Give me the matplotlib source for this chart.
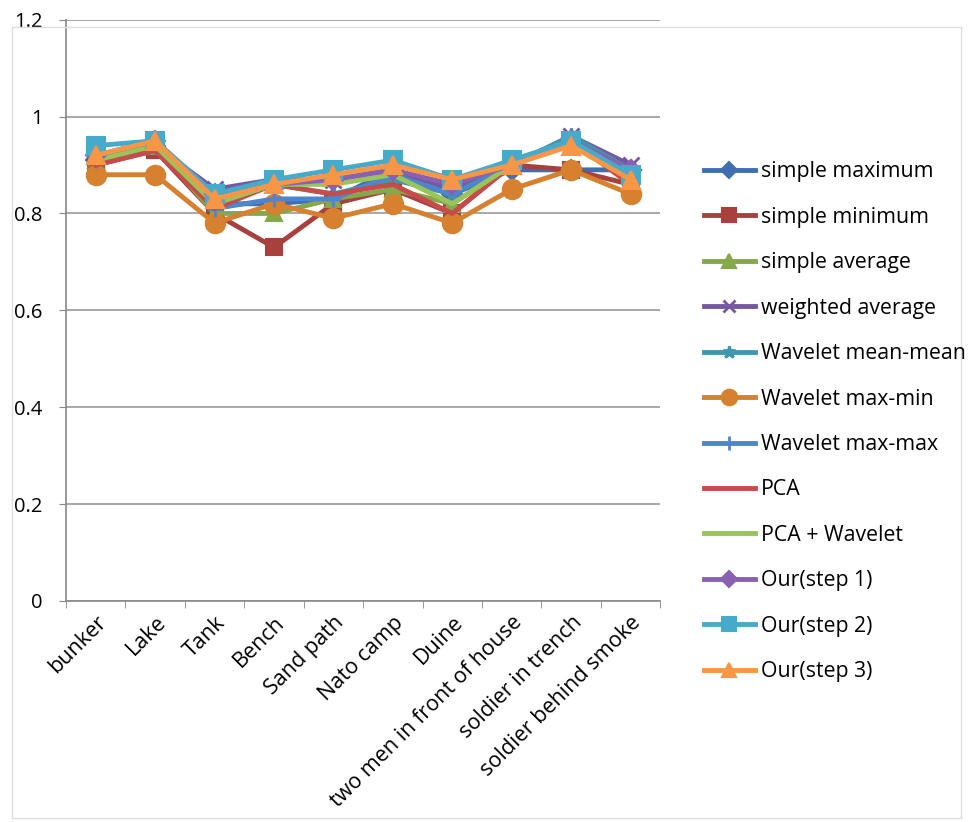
import numpy as np
import matplotlib
matplotlib.use('Agg')
import matplotlib.pyplot as plt
from matplotlib.patches import Rectangle

plt.rcParams['font.family'] = ['Open Sans', 'DejaVu Sans']

# image categories on the x axis
images = ['bunker', 'Lake', 'Tank', 'Bench', 'Sand path', 'Nato camp', 'Duine',
          'two men in front of house', 'soldier in trench', 'soldier behind smoke']

# fusion quality per method
simple_max = [0.91, 0.94, 0.82, 0.82, 0.83, 0.89, 0.84, 0.89, 0.89, 0.89]
simple_min = [0.90, 0.93, 0.80, 0.73, 0.82, 0.85, 0.80, 0.90, 0.89, 0.86]
simple_avg = [0.91, 0.94, 0.80, 0.80, 0.83, 0.85, 0.82, 0.90, 0.95, 0.89]
weighted_avg = [0.91, 0.94, 0.85, 0.87, 0.87, 0.89, 0.85, 0.90, 0.96, 0.90]
wav_mean_mean = [0.92, 0.94, 0.82, 0.86, 0.84, 0.87, 0.84, 0.90, 0.96, 0.89]
wav_max_min = [0.88, 0.88, 0.78, 0.82, 0.79, 0.82, 0.78, 0.85, 0.89, 0.84]
wav_max_max = [0.91, 0.94, 0.81, 0.83, 0.83, 0.88, 0.84, 0.90, 0.95, 0.89]
pca = [0.90, 0.93, 0.81, 0.86, 0.84, 0.86, 0.80, 0.90, 0.95, 0.86]
pca_wav = [0.91, 0.94, 0.82, 0.86, 0.86, 0.88, 0.82, 0.90, 0.95, 0.88]
our_step1 = [0.92, 0.95, 0.84, 0.86, 0.87, 0.89, 0.86, 0.90, 0.95, 0.89]
our_step2 = [0.94, 0.95, 0.84, 0.87, 0.89, 0.91, 0.87, 0.91, 0.95, 0.88]
our_step3 = [0.92, 0.95, 0.83, 0.86, 0.88, 0.90, 0.87, 0.90, 0.94, 0.87]

series = [
    ('simple maximum', simple_max, '#3F6FAE', 'D', 10),
    ('simple minimum', simple_min, '#A8403D', 's', 12),
    ('simple average', simple_avg, '#85A84A', '^', 12),
    ('weighted average', weighted_avg, '#7559A0', 'x', 11),
    ('Wavelet mean-mean', wav_mean_mean, '#3E97AE', '*', 11),
    ('Wavelet max-min', wav_max_min, '#D6812F', 'o', 14),
    ('Wavelet max-max', wav_max_max, '#4E85CC', '+', 12),
    ('PCA', pca, '#C84B4B', None, 0),
    ('PCA + Wavelet', pca_wav, '#98C45A', None, 0),
    ('Our(step 1)', our_step1, '#8A60B0', 'D', 10),
    ('Our(step 2)', our_step2, '#46AACB', 's', 13),
    ('Our(step 3)', our_step3, '#F79646', '^', 13),
]

fig = plt.figure(figsize=(9.71, 8.22), dpi=100)
ax = fig.add_axes([0.068, 0.269, 0.612, 0.707])

x = np.arange(len(images))
for name, vals, col, mk, ms in series:
    ax.plot(x, vals, color=col, lw=3.5, marker=mk, markersize=ms,
            markeredgewidth=1.5 if mk not in ('x', '+', '*') else 2,
            markerfacecolor=col, markeredgecolor=col, label=name)

ax.set_xlim(-0.5, len(images) - 0.5)
ax.set_ylim(0, 1.2)
ax.set_yticks(np.arange(0, 1.21, 0.2))
ax.set_yticklabels(['0', '0.2', '0.4', '0.6', '0.8', '1', '1.2'], fontsize=14.5)
ax.set_xticks(x)
ax.set_xticklabels(images, rotation=45, ha='right', rotation_mode='anchor', fontsize=15.5)
ax.tick_params(axis='x', length=0, pad=8)
ax.tick_params(axis='y', length=5, color='#888888', pad=12)
ax.set_xticks(np.arange(-0.5, len(images)), minor=True)
ax.tick_params(axis='x', which='minor', length=5, color='#888888')

ax.grid(axis='y', color='#999999', lw=1.2)
ax.set_axisbelow(True)
for s in ['top', 'right']:
    ax.spines[s].set_visible(False)
for s in ['left', 'bottom']:
    ax.spines[s].set_color('#888888')
    ax.spines[s].set_linewidth(1.2)

leg = fig.legend(loc='upper left', bbox_to_anchor=(0.705, 0.827), frameon=False,
                 fontsize=15.3, handlelength=2.4, labelspacing=1.15, handletextpad=0.3,
                 markerscale=0.8)

fig.patches.append(Rectangle((0.012, 0.005), 0.978, 0.962, transform=fig.transFigure,
                             fill=False, edgecolor='#dddddd', lw=1))

fig.savefig('out.png', dpi=100)
